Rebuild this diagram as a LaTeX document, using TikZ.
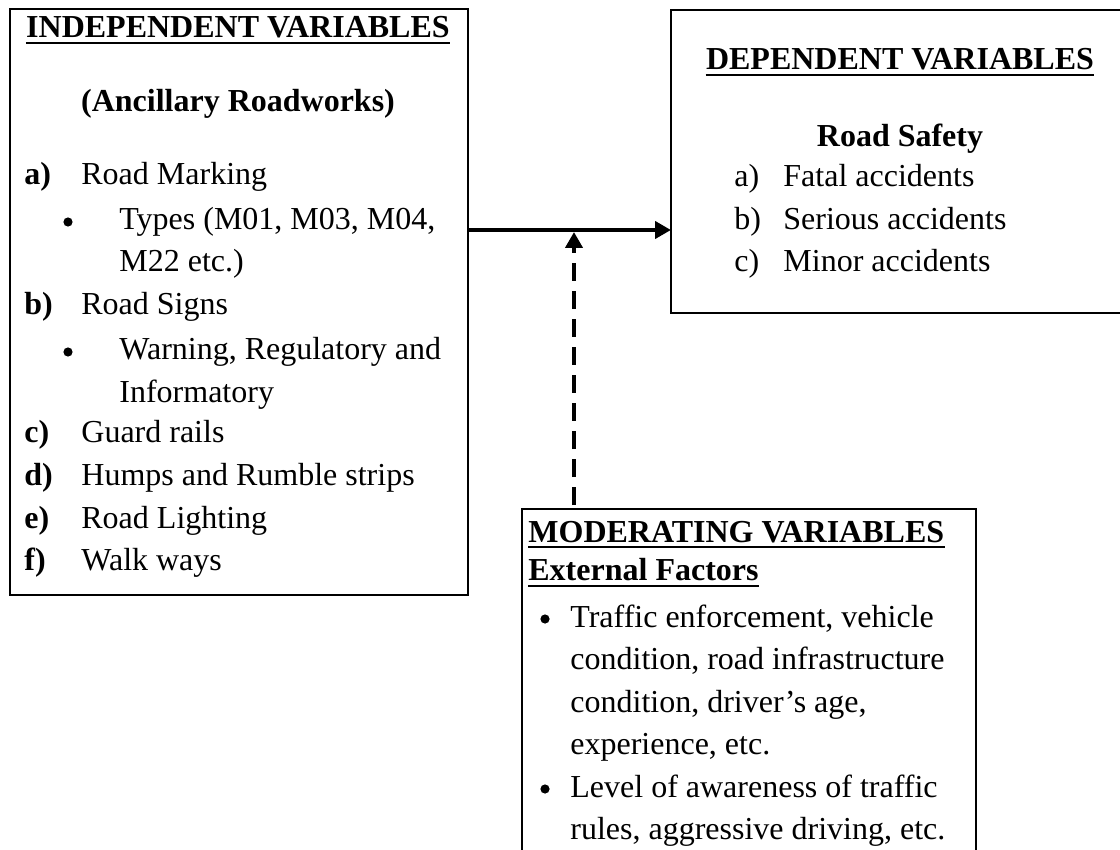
\documentclass[tikz,border=0pt]{standalone}
\usepackage{fontspec}
\setmainfont{Liberation Serif}
\usetikzlibrary{arrows.meta}
\begin{document}
\begin{tikzpicture}[x=0.5pt,y=-0.5pt,
  frame/.style={line width=1pt},
  tx/.style={anchor=base west,inner sep=0pt,font=\fontsize{16}{20}\selectfont},
  txb/.style={anchor=base west,inner sep=0pt,font=\fontsize{16}{20}\selectfont\bfseries},
  hd/.style={anchor=base,inner sep=0pt,font=\fontsize{16}{20}\selectfont\bfseries},
  ul/.style={line width=1pt},
  dot/.style={circle,fill=black,inner sep=0pt,minimum size=4.6pt},
  conn/.style={line width=2pt,-{Triangle[length=8pt,width=8.5pt]}},
  dconn/.style={conn,dash pattern=on 9pt off 5pt}]
\useasboundingbox (0,0) rectangle (1120,850);

% boxes
\node[draw,frame,anchor=north west,minimum width=229pt,minimum height=293pt,inner sep=0pt] (indep) at (9,8) {};
\node[anchor=north west,minimum width=224.5pt,minimum height=151pt,inner sep=0pt] (dep) at (671,10) {};
\draw[frame] (dep.north east) -- (dep.north west) -- (dep.south west) -- (dep.south east);
\node[anchor=north west,minimum width=226.5pt,minimum height=170.5pt,inner sep=0pt] (mod) at (522,509) {};
\draw[frame] (mod.south west) -- (mod.north west) -- (mod.north east) -- (mod.south east);

% connectors
\coordinate (jn) at (574,230);
\coordinate (jt) at (574,232);
\draw[conn] (indep.east |- jn) -- (dep.west |- jn);
\draw[dconn] ([yshift=2pt]mod.north -| jt) -- (jt);

% left box text
\node[hd] (t1) at (238,38) {INDEPENDENT VARIABLES};
\draw[ul] ([yshift=-2.5pt]t1.base west) -- ([yshift=-2.5pt]t1.base east);
\node[hd] (t2) at (238,112) {(Ancillary Roadworks)};
\node[txb] (la) at (24,185) {a)};
\node[tx] (lat) at (81,185) {Road Marking};
\node[dot] (lab) at (68,222) {};
\node[tx] (lat1) at (119,230) {Types (M01, M03, M04,};
\node[tx] (lat2) at (119,272) {M22 etc.)};
\node[txb] (lb) at (24,315) {b)};
\node[tx] (lbt) at (81,315) {Road Signs};
\node[dot] (lbb) at (68,352) {};
\node[tx] (lbt1) at (119,360) {Warning, Regulatory and};
\node[tx] (lbt2) at (119,402) {Informatory};
\node[txb] (lc) at (24,443) {c)};
\node[tx] (lct) at (81,443) {Guard rails};
\node[txb] (ld) at (24,485) {d)};
\node[tx] (ldt) at (81,485) {Humps and Rumble strips};
\node[txb] (le) at (24,528) {e)};
\node[tx] (let) at (81,528) {Road Lighting};
\node[txb] (lf) at (24,570) {f)};
\node[tx] (lft) at (81,570) {Walk ways};

% right box text
\node[hd] (r1) at (900,70) {DEPENDENT VARIABLES};
\draw[ul] ([yshift=-2.5pt]r1.base west) -- ([yshift=-2.5pt]r1.base east);
\node[hd] (r2) at (900,147) {Road Safety};
\node[tx] (ra) at (734,187) {a)};
\node[tx] (rat) at (783,187) {Fatal accidents};
\node[tx] (rb) at (734,230) {b)};
\node[tx] (rbt) at (783,230) {Serious accidents};
\node[tx] (rc) at (734,272) {c)};
\node[tx] (rct) at (783,272) {Minor accidents};

% bottom box text
\node[txb] (m1) at (528,542) {MODERATING VARIABLES};
\draw[ul] ([yshift=-2.5pt]m1.base west) -- ([yshift=-2.5pt]m1.base east);
\node[txb] (m2) at (528,580) {External Factors};
\draw[ul] ([yshift=-3pt]m2.base west) -- ([yshift=-3pt]m2.base east);
\node[dot] (mb1) at (545,619) {};
\node[tx] (m3) at (570,627) {Traffic enforcement, vehicle};
\node[tx] (m4) at (570,669.5) {condition, road infrastructure};
\node[tx] (m5) at (570,712) {condition, driver’s age,};
\node[tx] (m6) at (570,754.5) {experience, etc.};
\node[dot] (mb2) at (545,789) {};
\node[tx] (m7) at (570,797) {Level of awareness of traffic};
\node[tx] (m8) at (570,839.5) {rules, aggressive driving, etc.};
\end{tikzpicture}
\end{document}
